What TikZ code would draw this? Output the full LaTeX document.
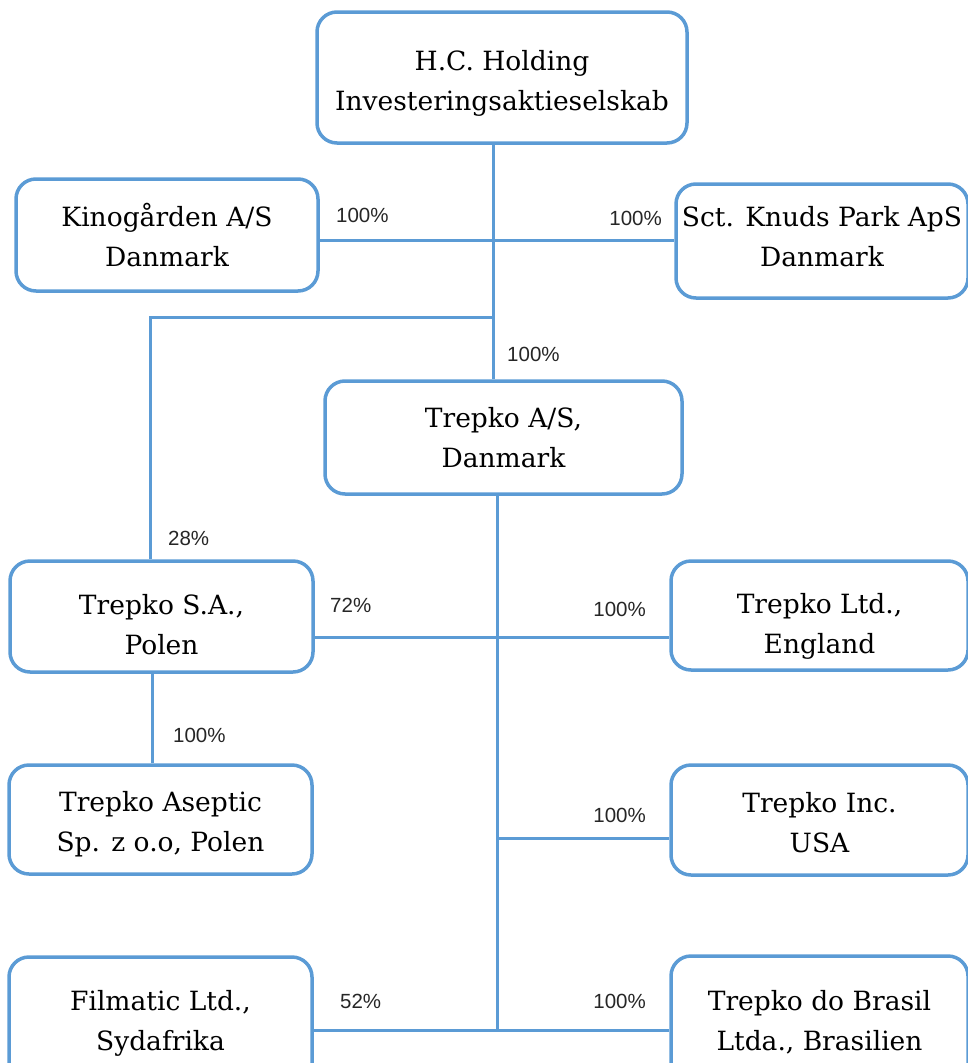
\documentclass[tikz,border=0pt]{standalone}
\usepackage{fontspec}
\newfontfamily\boxfont{DejaVu Serif}
\newfontfamily\pctfont{Liberation Sans}
\definecolor{lineblue}{RGB}{91,155,213}
\tikzset{
  orgbox/.style={draw=lineblue, line width=3.5pt, rounded corners=20pt, inner sep=0pt},
  boxtext/.style={align=center, font=\boxfont\fontsize{26.5}{40}\selectfont, inner sep=0pt},
  link/.style={draw=lineblue, line width=3pt},
  pct/.style={font=\pctfont\fontsize{20.5}{24}\selectfont, inner sep=0pt, text=black!85}
}
\begin{document}
\begin{tikzpicture}[x=1pt,y=-1pt]
\useasboundingbox (0,0) rectangle (967,1063);
% boxes
\node[orgbox, minimum width=370pt, minimum height=131pt] (hc) at (502,77.5) {};
\node[orgbox, minimum width=302pt, minimum height=112pt] (kino) at (167,235) {};
\node[orgbox, minimum width=292pt, minimum height=114pt] (sct) at (822,241) {};
\node[orgbox, minimum width=357pt, minimum height=113pt] (tas) at (503.5,437.5) {};
\node[orgbox, minimum width=303pt, minimum height=111pt] (tsa) at (161.5,616.5) {};
\node[orgbox, minimum width=297pt, minimum height=109pt] (tltd) at (819.5,615.5) {};
\node[orgbox, minimum width=303pt, minimum height=109pt] (asep) at (160.5,819.5) {};
\node[orgbox, minimum width=297pt, minimum height=110pt] (inc) at (819.5,820) {};
\node[orgbox, minimum width=303pt, minimum height=128pt] (film) at (160.5,1021) {};
\node[orgbox, minimum width=297pt, minimum height=128pt] (bras) at (819.5,1020) {};
% box texts
\node[boxtext] (hct) at (502,83) {H.C. Holding\\Investeringsaktieselskab};
\node[boxtext] (kinot) at (167,235) {Kinogården A/S\\Danmark};
\node[boxtext] (sctt) at (822,236.5) {Sct. Knuds Park ApS\\Danmark};
\node[boxtext] (tast) at (503.5,438) {Trepko A/S,\\Danmark};
\node[boxtext] (tsat) at (161.5,624.5) {Trepko S.A.,\\Polen};
\node[boxtext] (tltdt) at (819.5,626) {Trepko Ltd.,\\England};
\node[boxtext] (asept) at (160.5,824) {Trepko Aseptic\\Sp. z o.o, Polen};
\node[boxtext] (inct) at (819.5,823) {Trepko Inc.\\USA};
\node[boxtext] (filmt) at (160.5,1023) {Filmatic Ltd.,\\Sydafrika};
\node[boxtext] (brast) at (819.5,1022) {Trepko do Brasil\\Ltda., Brasilien};
% junction coordinates
\coordinate (j1) at (493,240);
\coordinate (j2) at (493,317);
\coordinate (j3) at (150,317);
\coordinate (k1) at (497,637);
\coordinate (k2) at (497,838);
\coordinate (k3) at (497,1030);
\coordinate (p1) at (152,700);
% connectors
\draw[link] (hc.south -| j1) -- (tas.north -| j1);
\draw[link] (kino.east |- j1) -- (sct.west |- j1);
\draw[link] (j2) -- (j3) -- (tsa.north -| j3);
\draw[link] (tas.south -| k1) -- (k3);
\draw[link] (tsa.east |- k1) -- (tltd.west |- k1);
\draw[link] (tsa.south -| p1) -- (asep.north -| p1);
\draw[link] (k2) -- (inc.west |- k2);
\draw[link] (film.east |- k3) -- (bras.west |- k3);
% labels
\node[pct, anchor=west] (l1) at (336,215) {100\%};
\node[pct, anchor=east] (l2) at (662,218) {100\%};
\node[pct, anchor=west] (l3) at (507,354) {100\%};
\node[pct, anchor=west] (l4) at (168,538) {28\%};
\node[pct, anchor=west] (l5) at (330,605) {72\%};
\node[pct, anchor=east] (l6) at (646,609) {100\%};
\node[pct, anchor=west] (l7) at (173,735) {100\%};
\node[pct, anchor=east] (l8) at (646,815) {100\%};
\node[pct, anchor=west] (l9) at (340,1001) {52\%};
\node[pct, anchor=east] (l10) at (646,1001) {100\%};
\end{tikzpicture}
\end{document}
